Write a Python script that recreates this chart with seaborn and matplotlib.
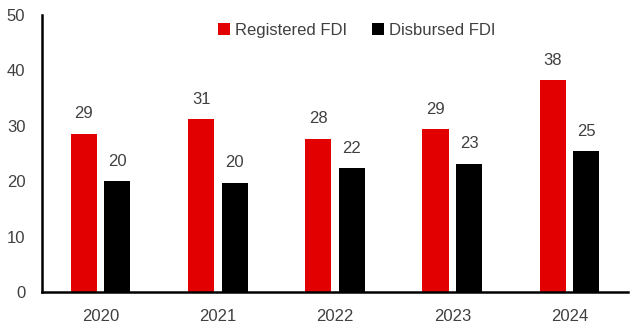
import matplotlib
matplotlib.use("Agg")
import matplotlib.pyplot as plt
import seaborn as sns
import pandas as pd

years = ["2020", "2021", "2022", "2023", "2024"]
registered = [28.6, 31.2, 27.7, 29.4, 38.2]
disbursed = [20.0, 19.7, 22.4, 23.2, 25.4]
series_names = ["Registered FDI", "Disbursed FDI"]
colors = ["#E30000", "#000000"]
yticks = [0, 10, 20, 30, 40, 50]

df = pd.DataFrame({
    "year": years * 2,
    "value": registered + disbursed,
    "series": [series_names[0]] * len(years) + [series_names[1]] * len(years),
})

sns.set_theme(style="white")
plt.rcParams["font.family"] = ["Liberation Sans", "DejaVu Sans"]
text_color = "#404040"

fig = plt.figure(figsize=(6.37, 3.35), dpi=100)
ax = fig.add_axes([0.066, 0.128, 0.92, 0.827])

sns.barplot(data=df, x="year", y="value", hue="series", palette=colors,
            width=0.572, gap=0.22, ax=ax, saturation=1, linewidth=0)

for cont in ax.containers:
    for bar in cont:
        h = bar.get_height()
        ax.annotate(f"{h:.0f}", (bar.get_x() + bar.get_width() / 2, h),
                    xytext=(0, 9), textcoords="offset points",
                    ha="center", va="bottom", fontsize=12, color=text_color)

ax.set_ylim(0, 50)
ax.set_yticks(yticks)
ax.set_xlim(-0.5, 4.5)
ax.set_xlabel("")
ax.set_ylabel("")
ax.tick_params(axis="both", length=0, labelsize=12, labelcolor=text_color)
ax.tick_params(axis="x", pad=12)
ax.tick_params(axis="y", pad=12)
for s in ["top", "right"]:
    ax.spines[s].set_visible(False)
for s in ["left", "bottom"]:
    ax.spines[s].set_color("black")
    ax.spines[s].set_linewidth(1.8)

leg = ax.legend(loc="upper center", bbox_to_anchor=(0.537, 1.025), ncol=2, frameon=False,
                fontsize=12, handlelength=0.7, handleheight=0.7, handletextpad=0.3,
                columnspacing=1.5)
for t in leg.get_texts():
    t.set_color(text_color)

fig.savefig("out.png", dpi=100)
